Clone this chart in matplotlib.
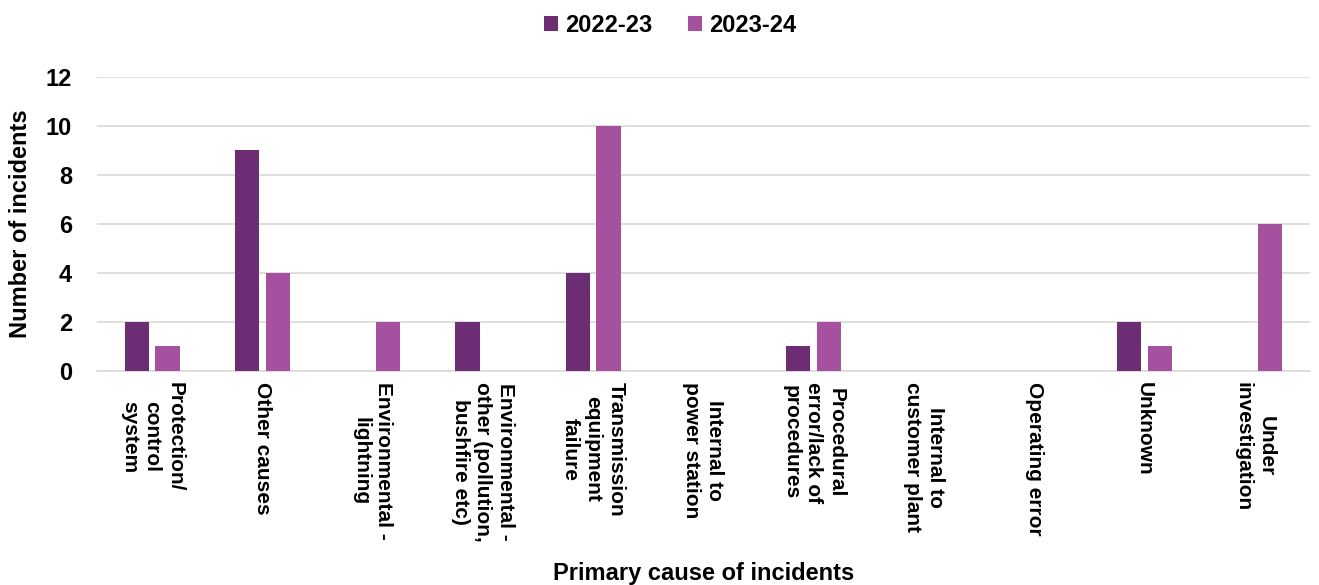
import matplotlib.pyplot as plt
import numpy as np

plt.rcParams['font.family'] = ['Liberation Sans', 'DejaVu Sans']
plt.rcParams['font.weight'] = 'bold'
plt.rcParams['axes.labelweight'] = 'bold'

causes = [
	"Protection/\ncontrol\nsystem",
	"Other causes",
	"Environmental -\nlightning",
	"Environmental -\nother (pollution,\nbushfire etc)",
	"Transmission\nequipment\nfailure",
	"Internal to\npower station",
	"Procedural\nerror/lack of\nprocedures",
	"Internal to\ncustomer plant",
	"Operating error",
	"Unknown",
	"Under\ninvestigation",
]
y2022 = [2, 9, 0, 2, 4, 0, 1, 0, 0, 2, 0]
y2023 = [1, 4, 2, 0, 10, 0, 2, 0, 0, 1, 6]
series_names = ["2022-23", "2023-24"]
colors = ["#6C2D74", "#A6519F"]

fig = plt.figure(figsize=(13.19, 5.85), dpi=100)
ax = fig.add_axes([0.0735, 0.366, 0.9195, 0.503])

x = np.arange(len(causes))
w = 0.22
ax.bar(x - 0.14, y2022, w, color=colors[0], label=series_names[0], zorder=3)
ax.bar(x + 0.14, y2023, w, color=colors[1], label=series_names[1], zorder=3)

ax.set_xlim(-0.5, len(causes) - 0.5)
ax.set_ylim(0, 12)
ax.set_yticks(range(0, 13, 2))
ax.grid(axis='y', color='#D9D9D9', linewidth=1.2, zorder=0)
for s in ['top', 'right', 'left']:
	ax.spines[s].set_visible(False)
ax.spines['bottom'].set_color('#D9D9D9')
ax.spines['bottom'].set_linewidth(1.2)
ax.tick_params(length=0)
ax.tick_params(axis='y', labelsize=17, pad=18)

ax.set_xticks(x)
ax.set_xticklabels(causes, rotation=-90, ha='center', va='top',
	multialignment='center', fontsize=15, linespacing=1.25)
ax.tick_params(axis='x', pad=8)

ax.set_ylabel("Number of incidents", fontsize=17, labelpad=10)
ax.set_xlabel("Primary cause of incidents", fontsize=17)
ax.xaxis.set_label_coords(0.5, -0.65)

fig.legend(loc='upper center', bbox_to_anchor=(0.508, 1.012), ncol=2, frameon=False,
	fontsize=17, handlelength=0.6, handleheight=0.6, handletextpad=0.3, columnspacing=1.5)

fig.savefig("out.png", dpi=100)
